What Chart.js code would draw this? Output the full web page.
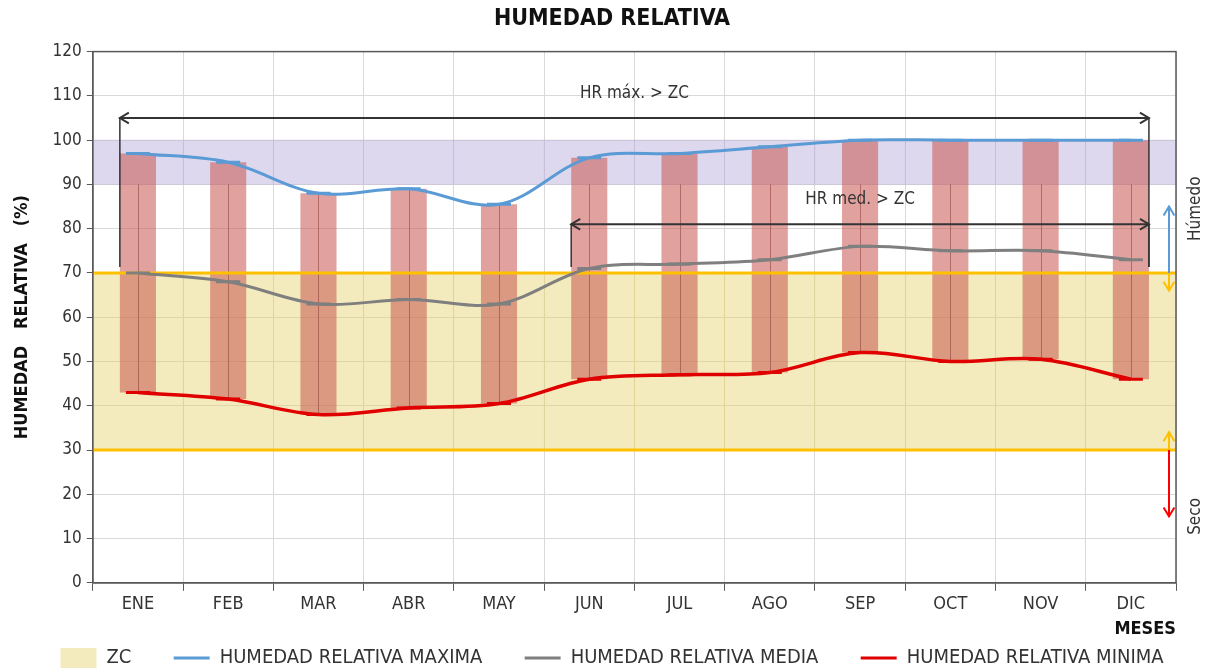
<!DOCTYPE html>
<html lang="es">
<head>
<meta charset="UTF-8">
<title>Humedad Relativa</title>
<script src="https://cdn.jsdelivr.net/npm/chart.js"></script>
<style>
  html, body { margin: 0; padding: 0; background: #fff; }
  .wrap { width: 1212px; height: 670px; }
</style>
</head>
<body>
<div class="wrap"><canvas id="hrChart"></canvas></div>
<script>
const meses = ["ENE", "FEB", "MAR", "ABR", "MAY", "JUN", "JUL", "AGO", "SEP", "OCT", "NOV", "DIC"];
const hrMax = [97, 95, 88, 89, 85.5, 96, 97, 98.5, 100, 100, 100, 100];
const hrMed = [70, 68, 63, 64, 63, 71, 72, 73, 76, 75, 75, 73];
const hrMin = [43, 41.5, 38, 39.5, 40.5, 46, 47, 47.5, 52, 50, 50.5, 46];
const zcLimits = [30, 70];      // zona de confort
const humedoLimits = [90, 100]; // franja húmeda
const yMax = 120;
const yStep = 10;

// flechas de lectura (mes inicial, mes final, valor)
const flechas = [
    { texto: "HR máx. > ZC", desde: "ENE", hasta: "DIC", valor: 105, textoValor: 110.5 },
    { texto: "HR med. > ZC", desde: "JUN", hasta: "DIC", valor: 81, textoValor: 86.5 }
];
const humedoFlecha = [70, 85];
const secoFlecha = [30, 15];

const FONT = "'DejaVu Sans Condensed', 'DejaVu Sans', sans-serif";
const BAR_PCT = 0.4;
const LEGEND_ORDER = [4, 0, 1, 2]; // ZC primero, luego las tres curvas

function drawArrowHead(ctx, x, y, dir, size) {
    ctx.beginPath();
    if (dir === "left") { ctx.moveTo(x + size, y - size * 0.6); ctx.lineTo(x, y); ctx.lineTo(x + size, y + size * 0.6); }
    if (dir === "right") { ctx.moveTo(x - size, y - size * 0.6); ctx.lineTo(x, y); ctx.lineTo(x - size, y + size * 0.6); }
    if (dir === "up") { ctx.moveTo(x - size * 0.6, y + size); ctx.lineTo(x, y); ctx.lineTo(x + size * 0.6, y + size); }
    if (dir === "down") { ctx.moveTo(x - size * 0.6, y - size); ctx.lineTo(x, y); ctx.lineTo(x + size * 0.6, y - size); }
    ctx.stroke();
}

function vArrow(ctx, x, y0, y1, color) {
    ctx.save();
    ctx.strokeStyle = color;
    ctx.lineWidth = 2;
    ctx.beginPath();
    ctx.moveTo(x, y0);
    ctx.lineTo(x, y1);
    ctx.stroke();
    drawArrowHead(ctx, x, y1, y1 < y0 ? "up" : "down", 9);
    ctx.restore();
}

const overlayPlugin = {
    id: "overlay",
    afterDatasetDraw(chart, args) {
        // líneas alto-bajo y límites de la ZC, justo después de las barras
        if (chart.data.datasets[args.index].id !== "rango") return;
        const { ctx, chartArea: a, scales: { x, y } } = chart;
        ctx.save();
        ctx.strokeStyle = "rgba(140,60,55,0.55)";
        ctx.lineWidth = 1;
        meses.forEach((m, i) => {
            const px = Math.round(x.getPixelForValue(i)) + 0.5;
            ctx.beginPath();
            ctx.moveTo(px, y.getPixelForValue(Math.min(hrMax[i], 90)));
            ctx.lineTo(px, y.getPixelForValue(hrMin[i]));
            ctx.stroke();
        });
        ctx.strokeStyle = "#FFC000";
        ctx.lineWidth = 3;
        zcLimits.forEach(v => {
            const py = y.getPixelForValue(v);
            ctx.beginPath();
            ctx.moveTo(a.left, py);
            ctx.lineTo(a.right, py);
            ctx.stroke();
        });
        ctx.restore();
    },
    afterDatasetsDraw(chart) {
        const { ctx, chartArea: a, scales: { x, y } } = chart;
        const half = (x.getPixelForValue(1) - x.getPixelForValue(0)) * BAR_PCT / 2;
        ctx.save();
        ctx.strokeStyle = "#333";
        ctx.fillStyle = "#333";
        ctx.font = "17px " + FONT;
        ctx.textAlign = "center";
        ctx.textBaseline = "middle";
        flechas.forEach(f => {
            const x0 = x.getPixelForValue(meses.indexOf(f.desde)) - half;
            const x1 = x.getPixelForValue(meses.indexOf(f.hasta)) + half;
            const py = y.getPixelForValue(f.valor);
            const pz = y.getPixelForValue(zcLimits[1]) - 6;
            ctx.lineWidth = 2;
            ctx.beginPath();
            ctx.moveTo(x0, py); ctx.lineTo(x1, py);
            ctx.stroke();
            drawArrowHead(ctx, x0, py, "left", 9);
            drawArrowHead(ctx, x1, py, "right", 9);
            ctx.lineWidth = 1.5;
            ctx.beginPath();
            ctx.moveTo(x0, py); ctx.lineTo(x0, pz);
            ctx.moveTo(x1, py); ctx.lineTo(x1, pz);
            ctx.stroke();
            ctx.fillText(f.texto, (x0 + x1) / 2, y.getPixelForValue(f.textoValor));
        });
        // flechas laterales
        const ax = a.right - 7;
        vArrow(ctx, ax, y.getPixelForValue(humedoFlecha[0]), y.getPixelForValue(humedoFlecha[1]), "#5B9BD5");
        vArrow(ctx, ax, y.getPixelForValue(zcLimits[1]), y.getPixelForValue(zcLimits[1] - 4), "#FFC000");
        vArrow(ctx, ax, y.getPixelForValue(zcLimits[0]), y.getPixelForValue(zcLimits[0] + 4), "#FFC000");
        vArrow(ctx, ax, y.getPixelForValue(secoFlecha[0]), y.getPixelForValue(secoFlecha[1]), "#FF0000");
        // textos laterales
        ctx.font = "17px " + FONT;
        ctx.fillStyle = "#333";
        [["Húmedo", 84.5], ["Seco", 15]].forEach(([t, v]) => {
            ctx.save();
            ctx.translate(a.right + 20, y.getPixelForValue(v));
            ctx.rotate(-Math.PI / 2);
            ctx.fillText(t, 0, 0);
            ctx.restore();
        });
        // marco del área de trazado
        ctx.strokeStyle = "#595959";
        ctx.lineWidth = 1.5;
        ctx.strokeRect(a.left, a.top, a.right - a.left, a.bottom - a.top);
        ctx.restore();
    }
};

const ctx = document.getElementById("hrChart").getContext("2d");
new Chart(ctx, {
    data: {
        labels: meses,
        datasets: [
            {
                type: "line",
                label: "HUMEDAD RELATIVA MAXIMA",
                data: hrMax,
                borderColor: "#5B9BD5",
                backgroundColor: "#5B9BD5",
                borderWidth: 3,
                tension: 0.35,
                pointStyle: "line",
                pointRadius: 12,
                pointBorderWidth: 3,
                pointBorderColor: "#5B9BD5",
                order: 0
            },
            {
                type: "line",
                label: "HUMEDAD RELATIVA MEDIA",
                data: hrMed,
                borderColor: "#7F7F7F",
                backgroundColor: "#7F7F7F",
                borderWidth: 3,
                tension: 0.35,
                pointStyle: "line",
                pointRadius: 12,
                pointBorderWidth: 3,
                pointBorderColor: "#7F7F7F",
                order: 0
            },
            {
                type: "line",
                label: "HUMEDAD RELATIVA MINIMA",
                data: hrMin,
                borderColor: "#E00000",
                backgroundColor: "#E00000",
                borderWidth: 3.5,
                tension: 0.35,
                pointStyle: "line",
                pointRadius: 12,
                pointBorderWidth: 3,
                pointBorderColor: "#E00000",
                order: 0
            },
            {
                id: "rango",
                type: "bar",
                label: "rango",
                data: meses.map((m, i) => [hrMin[i], hrMax[i]]),
                backgroundColor: "rgba(200,85,80,0.55)",
                borderWidth: 0,
                grouped: false,
                barPercentage: BAR_PCT,
                categoryPercentage: 1,
                order: 1
            },
            {
                type: "bar",
                label: "ZC",
                data: meses.map(() => zcLimits.slice()),
                backgroundColor: "rgba(228,210,110,0.45)",
                borderWidth: 0,
                pointStyle: "rect",
                grouped: false,
                barPercentage: 1,
                categoryPercentage: 1,
                order: 2
            },
            {
                type: "bar",
                label: "humedo",
                data: meses.map(() => humedoLimits.slice()),
                backgroundColor: "rgba(190,178,222,0.5)",
                borderWidth: 0,
                grouped: false,
                barPercentage: 1,
                categoryPercentage: 1,
                order: 2
            }
        ]
    },
    options: {
        responsive: true,
        maintainAspectRatio: false,
        animation: false,
        layout: { padding: { left: 12, right: 0, top: 0, bottom: -8 } },
        plugins: {
            title: {
                display: true,
                text: "HUMEDAD RELATIVA",
                color: "#111",
                font: { family: FONT, size: 23, weight: "bold" },
                padding: { top: 5, bottom: 19 }
            },
            legend: {
                position: "bottom",
                labels: {
                    generateLabels: chart => {
                        const items = Chart.defaults.plugins.legend.labels.generateLabels(chart);
                        return LEGEND_ORDER.map(i => {
                            const it = items.find(o => o.datasetIndex === i);
                            if (i !== 2) it.text += "      ";
                            return it;
                        });
                    },
                    usePointStyle: true,
                    pointStyleWidth: 36,
                    color: "#333",
                    font: { family: FONT, size: 20 },
                    padding: 8
                }
            },
            tooltip: { enabled: false }
        },
        scales: {
            x: {
                offset: true,
                grid: { color: "#d9d9d9", offset: true, tickLength: 8, tickColor: "#595959" },
                border: { color: "#595959", width: 1.5 },
                ticks: { color: "#333", font: { family: FONT, size: 18 }, padding: 3 },
                title: {
                    display: true,
                    text: "MESES",
                    align: "end",
                    color: "#111",
                    font: { family: FONT, size: 18, weight: "bold" },
                    padding: { top: 0, bottom: 0 }
                }
            },
            y: {
                min: 0,
                max: yMax,
                grid: { color: "#d9d9d9", tickLength: 6, tickColor: "#595959" },
                border: { color: "#595959", width: 1.5 },
                ticks: { stepSize: yStep, color: "#333", font: { family: FONT, size: 17 }, padding: 5 },
                title: {
                    display: true,
                    text: "HUMEDAD   RELATIVA   (%)",
                    color: "#111",
                    font: { family: FONT, size: 18, weight: "bold" },
                    padding: { top: 0, bottom: 14 }
                }
            },
            margen: {
                type: "linear",
                position: "right",
                display: true,
                grid: { display: false },
                border: { display: false },
                ticks: { display: false },
                afterFit: s => { s.width = 36; }
            }
        }
    },
    plugins: [overlayPlugin]
});
</script>
</body>
</html>
